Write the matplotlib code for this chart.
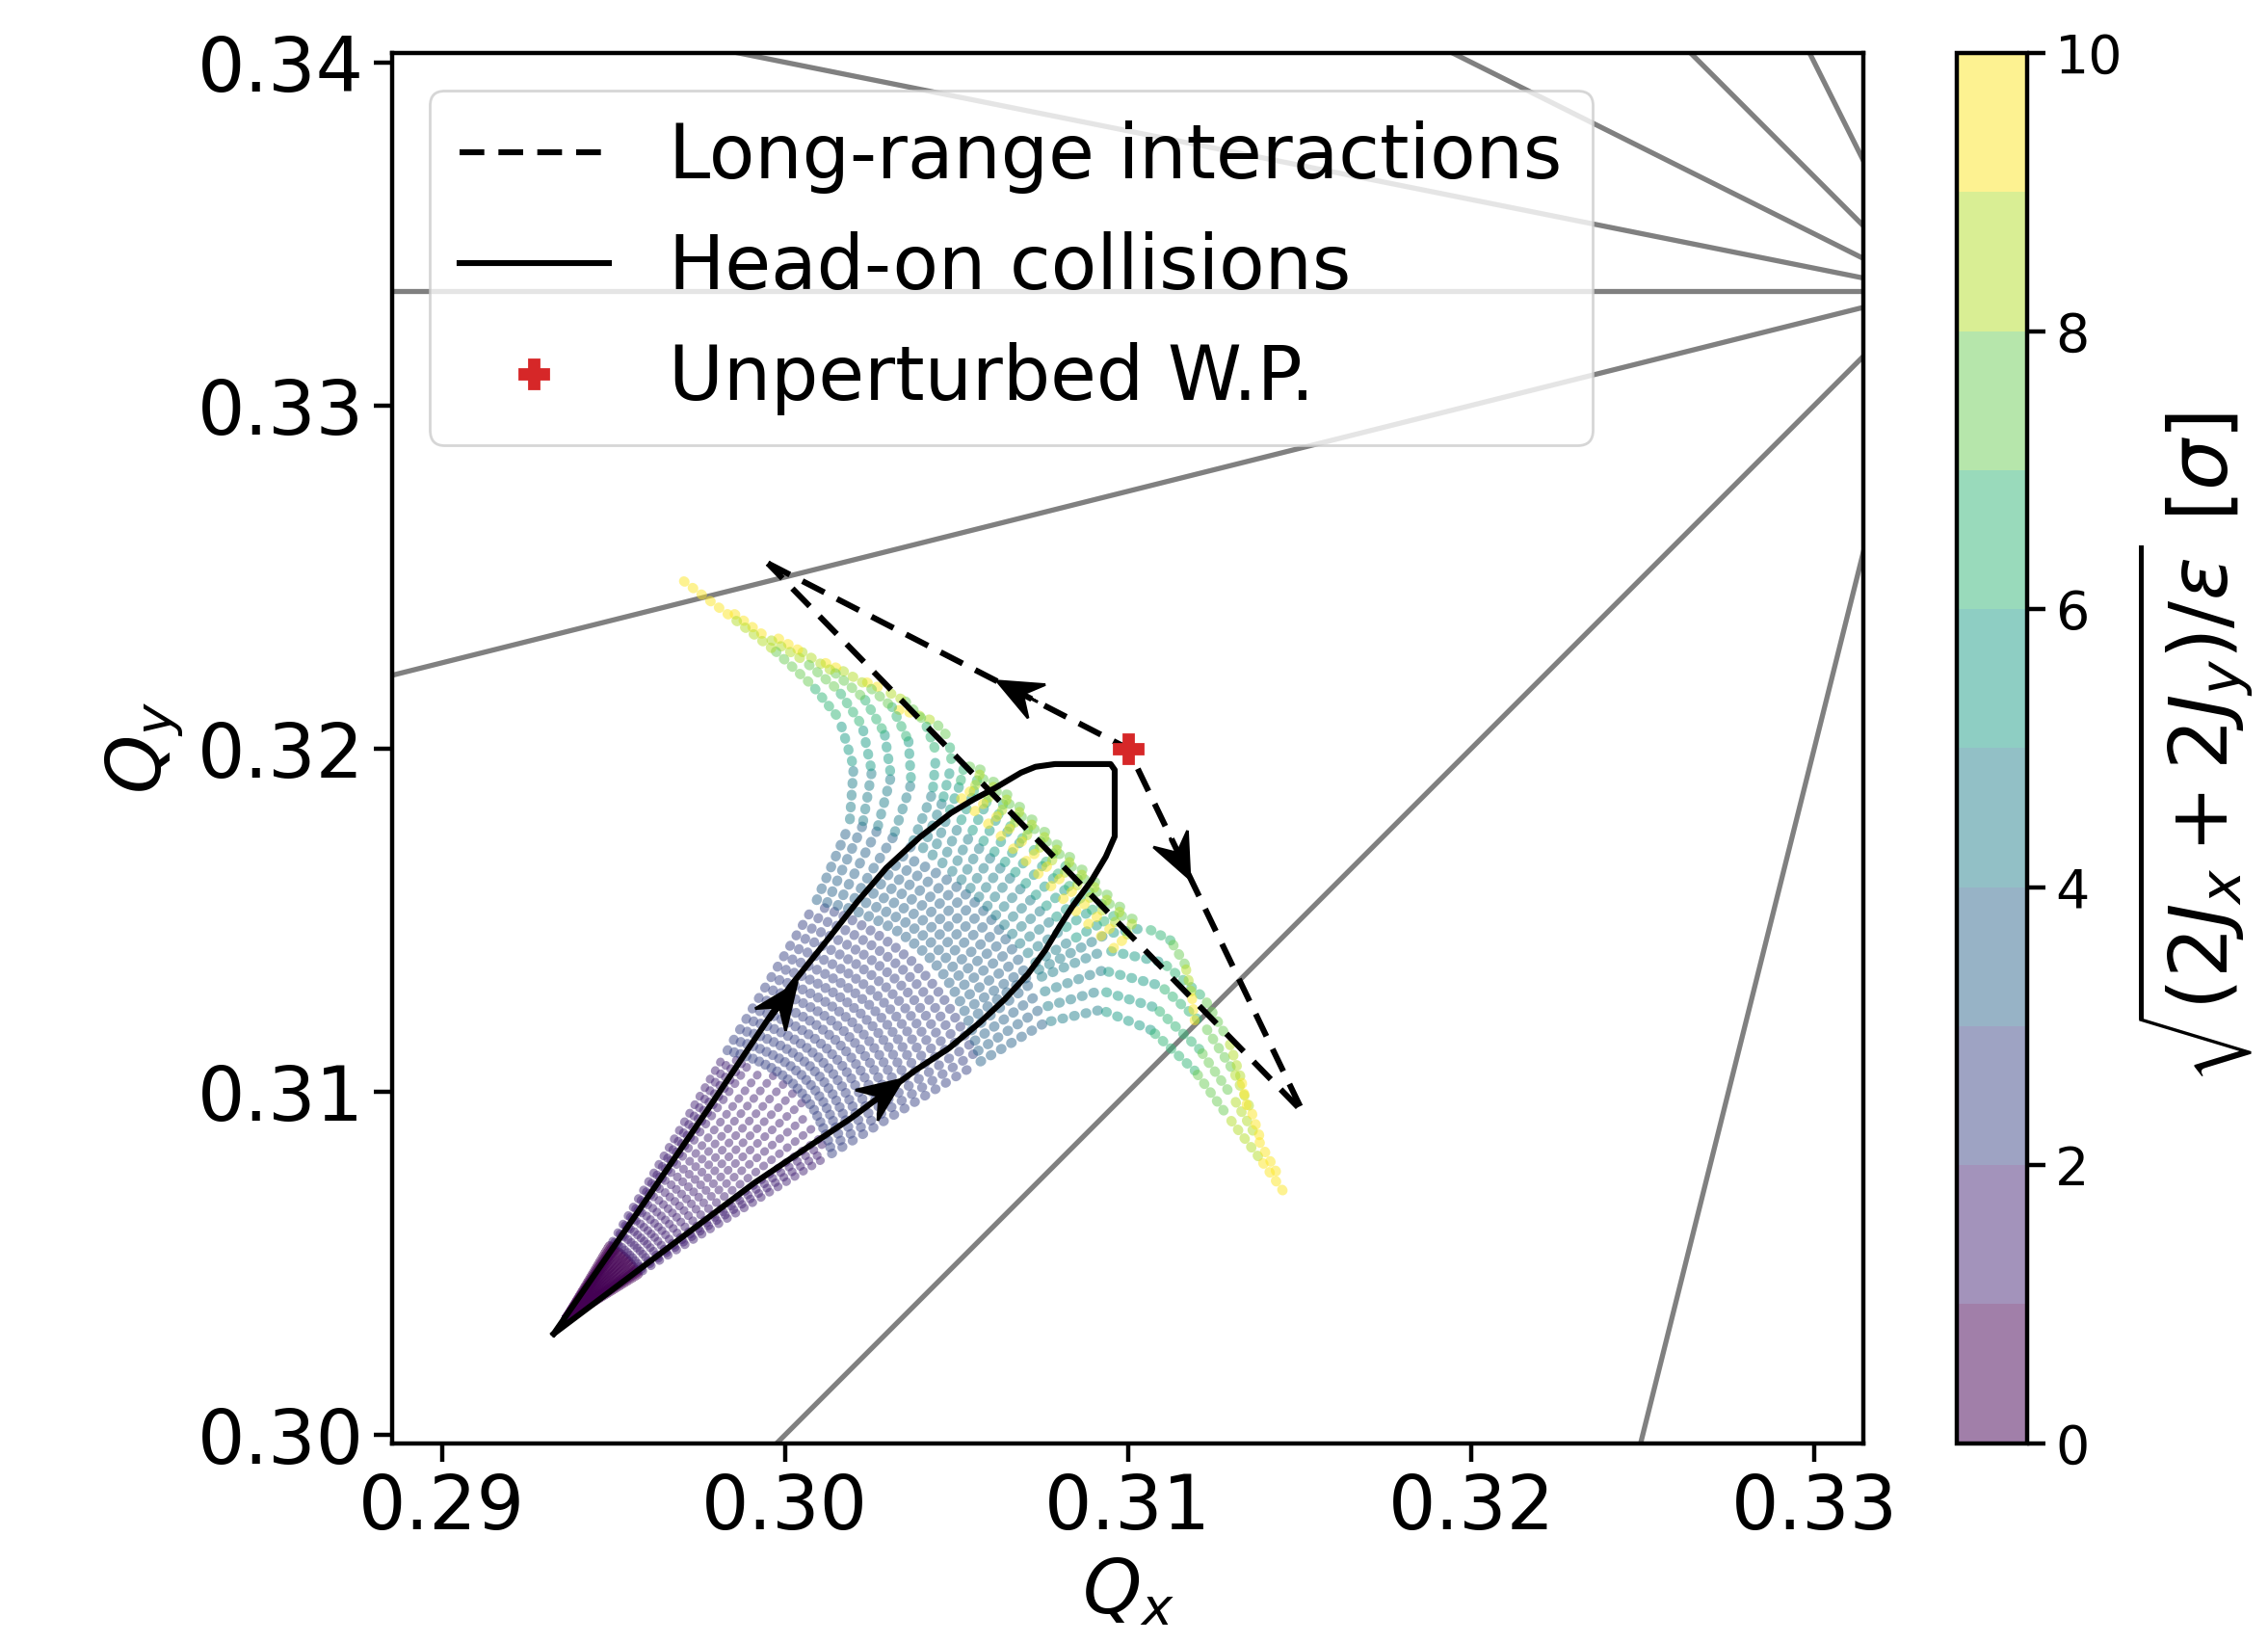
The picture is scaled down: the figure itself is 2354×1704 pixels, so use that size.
import numpy as np
import matplotlib
matplotlib.use("Agg")
import matplotlib.pyplot as plt
from matplotlib.collections import LineCollection
from matplotlib.ticker import FormatStrFormatter

# ---------------- data (tune space) ----------------
wp_qx, wp_qy = 0.31, 0.32                     # unperturbed working point
lr_corner_a = (0.2995, 0.3254)                # long-range footprint corners
lr_corner_b = (0.3151, 0.3094)

# head-on-only footprint outline
ho_qx = [0.29326, 0.29565, 0.29776, 0.29894, 0.30014, 0.30127, 0.30211, 0.30295,
         0.30393, 0.30483, 0.30548, 0.30612, 0.30688, 0.30730, 0.30787, 0.30949,
         0.30961, 0.30961, 0.30935, 0.30893, 0.30837, 0.30801, 0.30759, 0.30708,
         0.30641, 0.30568, 0.30478, 0.30379, 0.30191, 0.29910, 0.29326]
ho_qy = [0.30295, 0.30641, 0.30950, 0.31127, 0.31306, 0.31447, 0.31554, 0.31652,
         0.31742, 0.31812, 0.31851, 0.31885, 0.31930, 0.31947, 0.31955, 0.31955,
         0.31938, 0.31744, 0.31685, 0.31615, 0.31539, 0.31483, 0.31413, 0.31343,
         0.31270, 0.31202, 0.31127, 0.31062, 0.30922, 0.30734, 0.30295]

# full footprint: tune along each amplitude string, amplitudes 1..10 sigma (r=0 is the origin)
amplitudes = [0, 1, 2, 3, 4, 5, 6, 7, 8, 9, 10]
fp_origin_qx, fp_origin_qy = 0.29363, 0.30340

ray_L1_qx = [0.29573, 0.30122, 0.30556, 0.30759, 0.30921, 0.31067, 0.31194, 0.31292, 0.31385, 0.31466]
ray_L1_qy = [0.30470, 0.30811, 0.31080, 0.31202, 0.31239, 0.31180, 0.31062, 0.30927, 0.30804, 0.30691]
ray_L2_qx = [0.29570, 0.30117, 0.30549, 0.30750, 0.30921, 0.31081, 0.31208, 0.31306, 0.31376, 0.31432]
ray_L2_qy = [0.30475, 0.30829, 0.31110, 0.31245, 0.31295, 0.31245, 0.31124, 0.30983, 0.30866, 0.30767]
ray_L3_qx = [0.29568, 0.30111, 0.30540, 0.30742, 0.30927, 0.31095, 0.31222, 0.31306, 0.31357, 0.31390]
ray_L3_qy = [0.30479, 0.30848, 0.31139, 0.31287, 0.31354, 0.31309, 0.31194, 0.31062, 0.30950, 0.30851]
ray_L4_qx = [0.29565, 0.30104, 0.30531, 0.30733, 0.30935, 0.31101, 0.31222, 0.31292, 0.31329, 0.31351]
ray_L4_qy = [0.30483, 0.30866, 0.31169, 0.31329, 0.31413, 0.31377, 0.31273, 0.31152, 0.31040, 0.30936]
ray_G_qx = [0.29562, 0.30097, 0.30521, 0.30725, 0.30941, 0.31053, 0.31124, 0.31166, 0.31185, 0.31194]
ray_G_qy = [0.30487, 0.30884, 0.31197, 0.31348, 0.31461, 0.31478, 0.31441, 0.31371, 0.31287, 0.31208]
ray_H1_qx = [0.29559, 0.30089, 0.30509, 0.30716, 0.30834, 0.30916, 0.30966, 0.31017, 0.30994, 0.30944]
ray_H1_qy = [0.30491, 0.30901, 0.31226, 0.31368, 0.31441, 0.31489, 0.31517, 0.31503, 0.31450, 0.31407]
ray_H1b_qx = [0.29555, 0.30080, 0.30496, 0.30694, 0.30806, 0.30882, 0.30930, 0.30981, 0.30958, 0.30908]
ray_H1b_qy = [0.30495, 0.30919, 0.31254, 0.31395, 0.31471, 0.31522, 0.31552, 0.31538, 0.31485, 0.31443]
ray_H2_qx = [0.29552, 0.30071, 0.30481, 0.30671, 0.30778, 0.30848, 0.30893, 0.30944, 0.30921, 0.30871]
ray_H2_qy = [0.30499, 0.30936, 0.31281, 0.31422, 0.31500, 0.31554, 0.31587, 0.31573, 0.31520, 0.31478]
ray_H2b_qx = [0.29549, 0.30060, 0.30465, 0.30649, 0.30749, 0.30816, 0.30857, 0.30908, 0.30885, 0.30835]
ray_H2b_qy = [0.30503, 0.30952, 0.31307, 0.31449, 0.31531, 0.31589, 0.31624, 0.31610, 0.31557, 0.31515]
ray_H3_qx = [0.29545, 0.30049, 0.30448, 0.30627, 0.30719, 0.30784, 0.30820, 0.30871, 0.30848, 0.30798]
ray_H3_qy = [0.30507, 0.30968, 0.31332, 0.31475, 0.31562, 0.31624, 0.31660, 0.31646, 0.31593, 0.31551]
ray_H3b_qx = [0.29542, 0.30037, 0.30429, 0.30603, 0.30690, 0.30750, 0.30784, 0.30835, 0.30812, 0.30762]
ray_H3b_qy = [0.30511, 0.30983, 0.31357, 0.31502, 0.31595, 0.31658, 0.31697, 0.31683, 0.31630, 0.31588]
ray_H4_qx = [0.29538, 0.30024, 0.30409, 0.30579, 0.30660, 0.30716, 0.30747, 0.30798, 0.30775, 0.30725]
ray_H4_qy = [0.30514, 0.30997, 0.31379, 0.31528, 0.31627, 0.31691, 0.31733, 0.31719, 0.31666, 0.31624]
ray_H4b_qx = [0.29535, 0.30011, 0.30387, 0.30555, 0.30631, 0.30683, 0.30711, 0.30762, 0.30739, 0.30689]
ray_H4b_qy = [0.30518, 0.31011, 0.31400, 0.31554, 0.31656, 0.31725, 0.31770, 0.31756, 0.31703, 0.31661]
ray_H5_qx = [0.29531, 0.29996, 0.30364, 0.30531, 0.30601, 0.30649, 0.30674, 0.30725, 0.30702, 0.30652]
ray_H5_qy = [0.30521, 0.31023, 0.31420, 0.31579, 0.31685, 0.31759, 0.31806, 0.31792, 0.31739, 0.31697]
ray_H5b_qx = [0.29527, 0.29981, 0.30340, 0.30506, 0.30570, 0.30616, 0.30638, 0.30689, 0.30666, 0.30616]
ray_H5b_qy = [0.30525, 0.31035, 0.31439, 0.31603, 0.31716, 0.31794, 0.31843, 0.31829, 0.31776, 0.31734]
ray_H6_qx = [0.29523, 0.29965, 0.30315, 0.30480, 0.30539, 0.30582, 0.30601, 0.30652, 0.30629, 0.30579]
ray_H6_qy = [0.30528, 0.31046, 0.31456, 0.31627, 0.31747, 0.31829, 0.31879, 0.31865, 0.31812, 0.31770]
ray_H6b_qx = [0.29520, 0.29949, 0.30288, 0.30452, 0.30507, 0.30546, 0.30562, 0.30613, 0.30590, 0.30540]
ray_H6b_qy = [0.30531, 0.31056, 0.31471, 0.31651, 0.31777, 0.31861, 0.31916, 0.31902, 0.31849, 0.31807]
ray_H7_qx = [0.29516, 0.29932, 0.30261, 0.30424, 0.30475, 0.30509, 0.30523, 0.30573, 0.30551, 0.30500]
ray_H7_qy = [0.30535, 0.31065, 0.31485, 0.31674, 0.31806, 0.31893, 0.31952, 0.31938, 0.31885, 0.31843]
ray_K_qx = [0.29511, 0.29914, 0.30233, 0.30396, 0.30458, 0.30486, 0.30478, 0.30436, 0.30379, 0.30323]
ray_K_qy = [0.30538, 0.31074, 0.31498, 0.31695, 0.31843, 0.31955, 0.32031, 0.32079, 0.32101, 0.32115]
ray_U1_qx = [0.29507, 0.29896, 0.30204, 0.30368, 0.30430, 0.30441, 0.30407, 0.30351, 0.30284, 0.30225]
ray_U1_qy = [0.30541, 0.31082, 0.31510, 0.31716, 0.31871, 0.31989, 0.32079, 0.32138, 0.32174, 0.32199]
ray_U2_qx = [0.29503, 0.29878, 0.30175, 0.30315, 0.30368, 0.30360, 0.30312, 0.30239, 0.30163, 0.30099]
ray_U2_qy = [0.30544, 0.31089, 0.31520, 0.31742, 0.31899, 0.32022, 0.32121, 0.32185, 0.32230, 0.32258]
ray_U3_qx = [0.29499, 0.29860, 0.30146, 0.30267, 0.30309, 0.30290, 0.30231, 0.30144, 0.30051, 0.29972]
ray_U3_qy = [0.30546, 0.31095, 0.31528, 0.31759, 0.31919, 0.32045, 0.32146, 0.32222, 0.32281, 0.32326]
ray_U4_qx = [0.29495, 0.29842, 0.30116, 0.30225, 0.30253, 0.30225, 0.30155, 0.30056, 0.29944, 0.29837]
ray_U4_qy = [0.30549, 0.31100, 0.31536, 0.31773, 0.31933, 0.32067, 0.32171, 0.32256, 0.32326, 0.32404]
ray_U5_qx = [0.29490, 0.29823, 0.30086, 0.30188, 0.30200, 0.30158, 0.30079, 0.29972, 0.29846, 0.29697]
ray_U5_qy = [0.30552, 0.31106, 0.31544, 0.31778, 0.31947, 0.32087, 0.32185, 0.32284, 0.32382, 0.32494]

# strings that only appear from 2 sigma outwards
late_strings = {'G', 'H1b', 'H2b', 'H3b', 'H4b', 'H5b', 'H6b', 'K'}

# resonance lines m*Qx + n*Qy = p
resonances = [(0, 3, 1), (1, -4, -1), (1, -1, 0), (4, -1, 1),
              (1, 5, 2), (1, 2, 1), (3, 3, 2), (2, 1, 1)]

# arrow heads: tip position and direction along the curves
ho_arrows = [(0.30034, 0.31315, 0.589, 0.808), (0.30343, 0.31037, 0.808, 0.589)]
lr_arrows = [(0.30618, 0.32197, -0.889, 0.457), (0.31180, 0.31620, 0.434, -0.901)]

xlim = (0.28854, 0.33144)
ylim = (0.29976, 0.34027)
xticks = [0.29, 0.30, 0.31, 0.32, 0.33]
yticks = [0.30, 0.31, 0.32, 0.33, 0.34]
cbar_ticks = [0, 2, 4, 6, 8, 10]

# ---------------- figure ----------------
plt.rcParams['font.size'] = 28
fig = plt.figure(figsize=(11.77, 8.52), dpi=200)
ax = fig.add_axes([0.17277, 0.12107, 0.64894, 0.84665])
cax = fig.add_axes([0.8628, 0.12107, 0.0310, 0.84665])

# resonance lines
xx = np.array([xlim[0] - 0.01, xlim[1] + 0.01])
for m, n, p in resonances:
    if n != 0:
        ax.plot(xx, (p - m * xx) / n, color='grey', lw=1.9, zorder=1)
    else:
        ax.axvline(p / m, color='grey', lw=1.9, zorder=1)

# footprint as dotted strings coloured by amplitude
rays = [('L1', ray_L1_qx, ray_L1_qy), ('L2', ray_L2_qx, ray_L2_qy),
        ('L3', ray_L3_qx, ray_L3_qy), ('L4', ray_L4_qx, ray_L4_qy),
        ('G', ray_G_qx, ray_G_qy),
        ('H1', ray_H1_qx, ray_H1_qy), ('H1b', ray_H1b_qx, ray_H1b_qy),
        ('H2', ray_H2_qx, ray_H2_qy), ('H2b', ray_H2b_qx, ray_H2b_qy),
        ('H3', ray_H3_qx, ray_H3_qy), ('H3b', ray_H3b_qx, ray_H3b_qy),
        ('H4', ray_H4_qx, ray_H4_qy), ('H4b', ray_H4b_qx, ray_H4b_qy),
        ('H5', ray_H5_qx, ray_H5_qy), ('H5b', ray_H5b_qx, ray_H5b_qy),
        ('H6', ray_H6_qx, ray_H6_qy), ('H6b', ray_H6b_qx, ray_H6b_qy),
        ('H7', ray_H7_qx, ray_H7_qy), ('K', ray_K_qx, ray_K_qy),
        ('U1', ray_U1_qx, ray_U1_qy), ('U2', ray_U2_qx, ray_U2_qy),
        ('U3', ray_U3_qx, ray_U3_qy), ('U4', ray_U4_qx, ray_U4_qy),
        ('U5', ray_U5_qx, ray_U5_qy)]
gap_by_bin = [0.2, 1.1, 1.2, 1.1, 1.1, 1.1, 1.0, 1.0, 1.0, 1.0]
lw_by_bin = [3.7, 3.1, 3.5, 3.7, 3.7, 3.7, 3.7, 3.7, 3.7, 3.7]
dot_on = 0.1
segs, vals, styles, widths = [], [], [], []
for name, qx, qy in rays:
    xs = [fp_origin_qx] + list(qx)
    ys = [fp_origin_qy] + list(qy)
    first = 2 if name in late_strings else 0
    for k in range(first, len(xs) - 1):
        segs.append([(xs[k], ys[k]), (xs[k + 1], ys[k + 1])])
        vals.append(amplitudes[k] + 0.5)
        offset = 0.0 if k == 0 else dot_on + 0.5 * gap_by_bin[k]
        styles.append((offset, (dot_on, gap_by_bin[k])))
        widths.append(lw_by_bin[k])
cmap = plt.get_cmap('viridis', 10)
lc = LineCollection(segs, cmap=cmap, norm=plt.Normalize(0, 10),
                    linewidths=widths, linestyles=styles,
                    capstyle='round', alpha=0.5, zorder=2)
lc.set_array(np.array(vals))
ax.add_collection(lc)

# long-range and head-on lines
A, B = lr_corner_a, lr_corner_b
ax.plot([A[0], wp_qx, B[0], A[0]], [A[1], wp_qy, B[1], A[1]], color='k', lw=2.2,
        dashes=(4.2, 2.4), zorder=3, label='Long-range interactions')
ax.plot(ho_qx, ho_qy, color='k', lw=2.2, zorder=3, label='Head-on collisions',
        solid_joinstyle='round')
ax.plot([wp_qx], [wp_qy], ls='none', marker='P', color='tab:red', ms=10.5,
        zorder=5, label='Unperturbed W.P.')

hl, hw = 0.00130, 0.00110
for tx, ty, dx, dy in ho_arrows + lr_arrows:
    ax.arrow(tx - hl * dx, ty - hl * dy, hl * dx, hl * dy, width=0.00001,
             head_width=hw, head_length=hl, overhang=0.35,
             length_includes_head=True, color='k', zorder=4)

ax.set_xlim(*xlim)
ax.set_ylim(*ylim)
ax.set_xticks(xticks)
ax.set_yticks(yticks)
ax.xaxis.set_major_formatter(FormatStrFormatter('%.2f'))
ax.yaxis.set_major_formatter(FormatStrFormatter('%.2f'))
ax.tick_params(length=7, width=1.6)
for s in ax.spines.values():
    s.set_linewidth(1.6)
ax.set_xlabel(r'$Q_x$')
ax.set_ylabel(r'$Q_y$')

ax.legend(loc='upper left', fontsize=28)

cb = fig.colorbar(lc, cax=cax, ticks=cbar_ticks)
cb.ax.tick_params(labelsize=20, length=7, width=1.6)
cb.outline.set_linewidth(1.6)
cb.set_label(r'$\sqrt{(2J_x + 2J_y)/\varepsilon}$ [$\sigma$]', fontsize=30)

fig.savefig('out.png', dpi=200)
